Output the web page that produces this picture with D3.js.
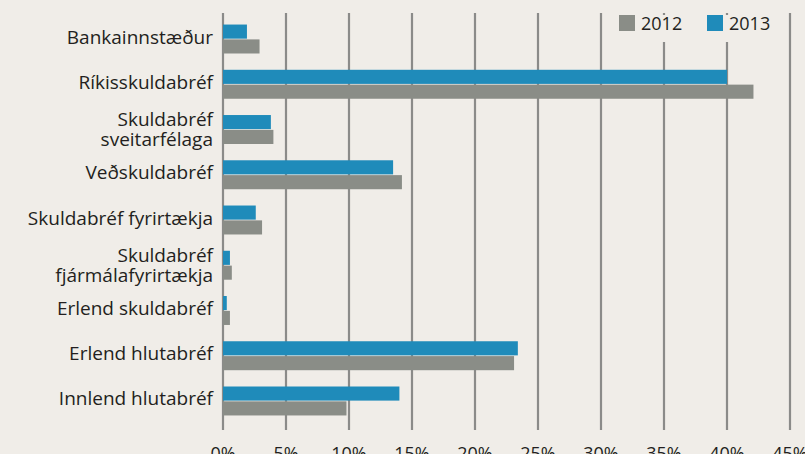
<!DOCTYPE html>
<html>
<head>
<meta charset="utf-8">
<script src="https://cdn.jsdelivr.net/npm/d3@7"></script>
<style>
  body { margin: 0; background: #f0ede8; }
  svg { display: block; font-family: "Open Sans", "Noto Sans", sans-serif; }
</style>
</head>
<body>
<div id="chart"></div>
<script>
var categories = [
    "Bankainnstæður",
    "Ríkisskuldabréf",
    "Skuldabréf\nsveitarfélaga",
    "Veðskuldabréf",
    "Skuldabréf fyrirtækja",
    "Skuldabréf\nfjármálafyrirtækja",
    "Erlend skuldabréf",
    "Erlend hlutabréf",
    "Innlend hlutabréf"
];
var values2012 = [2.9, 42.1, 4.0, 14.2, 3.1, 0.7, 0.55, 23.1, 9.8];
var values2013 = [1.9, 40.0, 3.8, 13.5, 2.6, 0.55, 0.3, 23.4, 14.0];
var seriesNames = ["2013", "2012"];
var tickValues = [0, 5, 10, 15, 20, 25, 30, 35, 40, 45];

var width = 805, height = 454;
var colors = { "2012": "#8a8d87", "2013": "#1f8bba" };

var svg = d3.select("#chart")
    .append("svg")
    .attr("width", width)
    .attr("height", height);

svg.append("rect")
    .attr("width", width)
    .attr("height", height)
    .attr("fill", "#f0ede8");

var x = d3.scaleLinear()
    .domain([0, 45])
    .range([223, 790]);

var y0 = d3.scaleBand()
    .domain(categories)
    .range([16.4, 423.6])
    .paddingInner(0.36)
    .paddingOuter(0.18);

var y1 = d3.scaleBand()
    .domain(seriesNames)
    .range([0, y0.bandwidth()])
    .paddingInner(0.05);

// vertical grid lines
svg.append("g")
    .selectAll("line")
    .data(tickValues)
    .enter()
    .append("line")
    .attr("x1", function (d) { return x(d); })
    .attr("x2", function (d) { return x(d); })
    .attr("y1", 13)
    .attr("y2", 430)
    .attr("stroke", "#8b8b89")
    .attr("stroke-width", 2.2);

// tick labels
svg.append("g")
    .selectAll("text")
    .data(tickValues)
    .enter()
    .append("text")
    .attr("x", function (d) { return x(d); })
    .attr("y", 460)
    .attr("text-anchor", "middle")
    .attr("fill", "#231f20")
    .style("font-size", "18px")
    .text(function (d) { return d + "%"; });

// bars
var groups = svg.append("g")
    .selectAll("g")
    .data(categories)
    .enter()
    .append("g")
    .attr("transform", function (d) { return "translate(0," + y0(d) + ")"; });

groups.selectAll("rect")
    .data(function (d, i) {
        return [
            { key: "2013", value: values2013[i] },
            { key: "2012", value: values2012[i] }
        ];
    })
    .enter()
    .append("rect")
    .attr("x", x(0))
    .attr("y", function (d) { return y1(d.key); })
    .attr("width", function (d) { return x(d.value) - x(0); })
    .attr("height", y1.bandwidth())
    .attr("fill", function (d) { return colors[d.key]; });

// category labels
var labels = svg.append("g")
    .selectAll("text")
    .data(categories)
    .enter()
    .append("text")
    .attr("text-anchor", "end")
    .attr("fill", "#231f20")
    .style("font-size", "19px");

labels.each(function (d) {
    var lines = d.split("\n");
    var cy = y0(d) + y0.bandwidth() / 2;
    var t = d3.select(this);
    if (lines.length == 1) {
        t.append("tspan").attr("x", 213).attr("y", cy + 4.5).text(lines[0]);
    } else {
        t.append("tspan").attr("x", 213).attr("y", cy - 3.5).text(lines[0]);
        t.append("tspan").attr("x", 213).attr("y", cy + 16.5).text(lines[1]);
    }
});

// legend
var legend = svg.append("g");
legend.append("rect")
    .attr("x", 606)
    .attr("y", 15)
    .attr("width", 180)
    .attr("height", 27)
    .attr("fill", "#f0ede8");

var legendKeys = ["2012", "2013"];
var legendX = d3.scaleOrdinal().domain(legendKeys).range([619, 707]);

legend.selectAll("rect.key")
    .data(legendKeys)
    .enter()
    .append("rect")
    .attr("class", "key")
    .attr("x", function (d) { return legendX(d); })
    .attr("y", 15)
    .attr("width", 16)
    .attr("height", 16)
    .attr("fill", function (d) { return colors[d]; });

legend.selectAll("text")
    .data(legendKeys)
    .enter()
    .append("text")
    .attr("x", function (d) { return legendX(d) + 22; })
    .attr("y", 30)
    .attr("fill", "#231f20")
    .style("font-size", "18px")
    .text(function (d) { return d; });
</script>
</body>
</html>
